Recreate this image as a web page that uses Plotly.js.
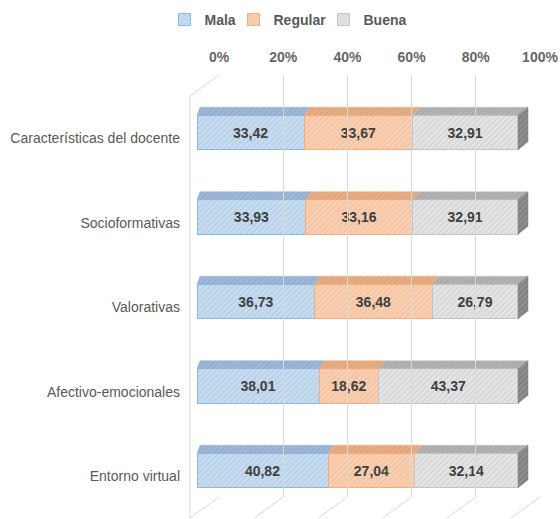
<!DOCTYPE html>
<html>
<head>
<meta charset="utf-8">
<script src="https://cdn.plot.ly/plotly-3.0.1.min.js"></script>
<style>html,body{margin:0;padding:0;background:#fff;}#chart{width:560px;height:519px;}</style>
</head>
<body>
<div id="chart"></div>
<script>
// ---------- data ----------
const categories = ['Características del docente', 'Socioformativas', 'Valorativas', 'Afectivo-emocionales', 'Entorno virtual'];
const seriesNames = ['Mala', 'Regular', 'Buena'];
const mala    = [33.42, 33.93, 36.73, 38.01, 40.82];
const regular = [33.67, 33.16, 36.48, 18.62, 27.04];
const buena   = [32.91, 32.91, 26.79, 43.37, 32.14];
const tickValues = [0, 20, 40, 60, 80, 100];
const tickLabels = ['0%', '20%', '40%', '60%', '80%', '100%'];

// ---------- style / geometry ----------
const W = 560, H = 519;
const frontColors = ['#c6dcf0', '#f9cfb2', '#e4e4e4'];
const borderColors = ['#8fb6e0', '#f0ad7e', '#c4c4c4'];
const topColors   = ['#9fb8d6', '#e6ae86', '#b2b2b2'];
const sideColor   = '#8e8e8e';
const hatchColors = ['#7a9cc4', '#d88e5c', '#9a9a9a'];
const legendWidths = [24, 45, 43];

const pxPerUnit = 3.21;          // px per percent
const frontLeft = 197;           // px of 0% front face
const xMax = 110;                // extra room for depth
const catPx = 84.5;              // px per category
const firstCenter = 132.5;       // px of first bar center
const barWidth = 0.41;
const depthDxLeft = 3 / pxPerUnit, depthDxRight = 10 / pxPerUnit, depthDy = 8 / catPx;
const backLeft = 219, backRight = 540, backTop = 75, backBottom = 497;
const floorDx = -29, floorDy = 21;

const font = 'Liberation Sans, Arial, sans-serif';
const idx = categories.map((_, i) => i);
const series = [mala, regular, buena];

const traces = [];
// front faces
series.forEach((vals, s) => {
  traces.push({
    type: 'bar', orientation: 'h', xaxis: 'x', yaxis: 'y',
    x: vals, y: idx, width: barWidth, name: seriesNames[s], legendwidth: legendWidths[s],
    marker: {
      color: frontColors[s],
      line: {color: borderColors[s], width: 1},
      pattern: {shape: '/', bgcolor: frontColors[s], fgcolor: hatchColors[s], fgopacity: 0.3, size: 4, solidity: 0.25}
    },
    texttemplate: '%{x:.2f}', textposition: 'inside', insidetextanchor: 'middle',
    textangle: 0, constraintext: 'none',
    textfont: {family: font, size: 14, color: '#404040', weight: 'bold'},
    hoverinfo: 'skip'
  });
});

// top faces and side face (perspective depth)
const dxAt = v => depthDxLeft + (depthDxRight - depthDxLeft) * v / 100;
series.forEach((vals, s) => {
  const px = [], py = [];
  idx.forEach(i => {
    let a = 0;
    for (let k = 0; k < s; k++) a += series[k][i];
    const b = a + vals[i];
    const yt = i - barWidth / 2;
    px.push(a, b, b + dxAt(b), a + dxAt(a), a, null);
    py.push(yt, yt, yt - depthDy, yt - depthDy, yt, null);
  });
  traces.push({
    type: 'scatter', mode: 'lines', xaxis: 'x', yaxis: 'y', x: px, y: py,
    fill: 'toself', fillcolor: topColors[s],
    fillpattern: {shape: '/', bgcolor: topColors[s], fgcolor: hatchColors[s], fgopacity: 0.45, size: 4, solidity: 0.3},
    line: {color: borderColors[s], width: 0.5}, showlegend: false, hoverinfo: 'skip'
  });
});
{
  const px = [], py = [];
  idx.forEach(i => {
    const tot = mala[i] + regular[i] + buena[i];
    const yt = i - barWidth / 2, yb = i + barWidth / 2;
    const d = dxAt(tot);
    px.push(tot, tot + d, tot + d, tot, tot, null);
    py.push(yt, yt - depthDy, yb - depthDy, yb, yt, null);
  });
  traces.push({
    type: 'scatter', mode: 'lines', xaxis: 'x', yaxis: 'y', x: px, y: py,
    fill: 'toself', fillcolor: sideColor,
    fillpattern: {shape: '/', bgcolor: sideColor, fgcolor: '#666666', fgopacity: 0.5, size: 4, solidity: 0.3},
    line: {color: '#7a7a7a', width: 0.5}, showlegend: false, hoverinfo: 'skip'
  });
}
// back wall subplot holder
traces.push({type: 'scatter', mode: 'markers', xaxis: 'x2', yaxis: 'y2', x: [0], y: [0],
  marker: {opacity: 0}, showlegend: false, hoverinfo: 'skip'});

// wall / floor edges
const gridColor = '#d9d9d9';
const wallH = backBottom - backTop;
const shapes = [];
tickValues.forEach(t => {
  shapes.push({type: 'line', xref: 'x2 domain', yref: 'y2 domain', xsizemode: 'pixel', ysizemode: 'pixel',
    xanchor: t / 100, yanchor: 0, x0: 0, x1: floorDx, y0: 0, y1: -floorDy,
    line: {color: gridColor, width: 1}, layer: 'below'});
});
shapes.push({type: 'line', xref: 'x2 domain', yref: 'y2 domain', xsizemode: 'pixel', ysizemode: 'pixel',
  xanchor: 0, yanchor: 1, x0: 0, x1: floorDx, y0: 0, y1: -floorDy,
  line: {color: gridColor, width: 1}, layer: 'below'});
shapes.push({type: 'line', xref: 'x2 domain', yref: 'y2 domain', xsizemode: 'pixel', ysizemode: 'pixel',
  xanchor: 0, yanchor: 1, x0: floorDx, x1: floorDx, y0: -floorDy, y1: -floorDy - wallH,
  line: {color: gridColor, width: 1}, layer: 'below'});

const frontTop = firstCenter - catPx / 2;
const frontBottom = frontTop + catPx * categories.length;

const layout = {
  width: W, height: H,
  margin: {l: 0, r: 0, t: 0, b: 0},
  paper_bgcolor: '#ffffff', plot_bgcolor: 'rgba(0,0,0,0)',
  barmode: 'stack', separators: ',.',
  showlegend: true,
  legend: {orientation: 'h', x: 288 / W, xanchor: 'center', y: 1 - 4 / H, yanchor: 'top',
    traceorder: 'normal', font: {family: font, size: 14, color: '#595959', weight: 'bold'},
    itemwidth: 30, bgcolor: 'rgba(0,0,0,0)'},
  xaxis: {domain: [frontLeft / W, (frontLeft + pxPerUnit * xMax) / W], range: [0, xMax],
    visible: false, fixedrange: true, anchor: 'y'},
  yaxis: {domain: [(H - frontBottom) / H, (H - frontTop) / H], range: [categories.length - 0.5, -0.5],
    tickvals: idx, ticktext: categories, showgrid: false, zeroline: false, showline: false,
    ticks: '', ticklabelstandoff: 16, ticklabelshift: -6, automargin: false, anchor: 'x',
    tickfont: {family: font, size: 14, color: '#595959'}, fixedrange: true},
  xaxis2: {domain: [backLeft / W, backRight / W], range: [0, 100], anchor: 'y2', side: 'top',
    tickmode: 'array', tickvals: tickValues, ticktext: tickLabels, showgrid: true, gridcolor: gridColor, gridwidth: 1,
    zeroline: false, showline: false, ticks: '', automargin: false, ticklabelstandoff: 9,
    tickfont: {family: font, size: 14, color: '#666666', weight: 'bold'}, fixedrange: true},
  yaxis2: {domain: [(H - backBottom) / H, (H - backTop) / H], range: [0, 1], visible: false,
    anchor: 'x2', fixedrange: true},
  shapes: shapes
};

Plotly.newPlot('chart', traces, layout, {displayModeBar: false, staticPlot: true});
</script>
</body>
</html>
